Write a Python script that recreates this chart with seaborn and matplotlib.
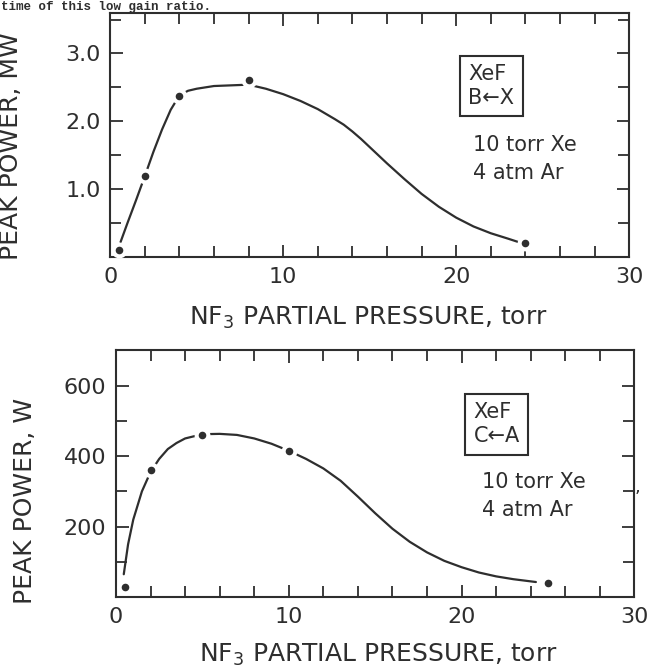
import matplotlib
matplotlib.use("Agg")
import matplotlib.pyplot as plt
import seaborn as sns
import pandas as pd
from matplotlib.ticker import MultipleLocator, FixedLocator

# Ink colour of the scanned figure
INK = "#2e2e2e"

# Upper panel: XeF B-X, peak power in MW
top_pts_x = [0.5, 2, 4, 8, 24]
top_pts_y = [0.11, 1.19, 2.38, 2.61, 0.21]
top_curve_x = [0.6, 1.0, 1.5, 2.0, 2.5, 3.0, 3.5, 4.0, 4.5, 5, 6, 7, 8, 9,
               10, 11, 12, 13, 13.5, 14, 14.5, 15, 15.5, 16, 17, 18, 19, 20,
               21, 22, 23, 23.6]
top_curve_y = [0.22, 0.50, 0.84, 1.19, 1.55, 1.88, 2.17, 2.38, 2.45, 2.48,
               2.52, 2.53, 2.54, 2.48, 2.40, 2.30, 2.18, 2.03, 1.95, 1.85,
               1.74, 1.62, 1.50, 1.38, 1.15, 0.93, 0.74, 0.58, 0.45, 0.35,
               0.27, 0.22]
top_yticks = [1.0, 2.0, 3.0]
top_yticklabels = ["1.0", "2.0", "3.0"]

# Lower panel: XeF C-A, peak power in W
bot_pts_x = [0.5, 2, 5, 10, 25]
bot_pts_y = [30, 360, 460, 415, 40]
bot_curve_x = [0.45, 0.7, 1.0, 1.5, 2.0, 2.5, 3, 3.5, 4, 5, 6, 7, 8, 9, 10,
               11, 12, 13, 14, 15, 16, 17, 18, 19, 20, 21, 22, 23, 24.3]
bot_curve_y = [65, 150, 220, 300, 355, 392, 420, 437, 450, 462, 463, 460,
               450, 435, 415, 392, 365, 330, 285, 238, 194, 157, 127, 103,
               85, 70, 59, 51, 43]
bot_yticks = [200, 400, 600]
bot_yticklabels = ["200", "400", "600"]

xticks = [0, 10, 20, 30]
xticklabels = ["0", "10", "20", "30"]

sns.set_theme(style="ticks")
plt.rcParams["font.family"] = ["DejaVu Sans"]
plt.rcParams["mathtext.fontset"] = "dejavusans"
plt.rcParams["text.color"] = INK
plt.rcParams["axes.labelcolor"] = INK
plt.rcParams["xtick.color"] = INK
plt.rcParams["ytick.color"] = INK
plt.rcParams["axes.edgecolor"] = INK

fig = plt.figure(figsize=(6.48, 6.71), dpi=100)
ax_top = fig.add_axes([0.170, 0.617, 0.801, 0.364])
ax_bot = fig.add_axes([0.179, 0.110, 0.800, 0.368])


def draw_panel(ax, cx, cy, px, py):
    curve = pd.DataFrame({"x": cx, "y": cy})
    pts = pd.DataFrame({"x": px, "y": py})
    sns.lineplot(data=curve, x="x", y="y", ax=ax, color=INK, lw=1.6,
                 sort=False, estimator=None)
    # white halo leaves the small gap between curve and data dot
    sns.scatterplot(data=pts, x="x", y="y", ax=ax, s=130, color="white",
                    linewidth=0, zorder=3)
    sns.scatterplot(data=pts, x="x", y="y", ax=ax, s=30, color=INK,
                    linewidth=0, zorder=4)
    for side in ["top", "right", "left", "bottom"]:
        ax.spines[side].set_visible(True)
        ax.spines[side].set_linewidth(1.5)
    ax.set_xlim(0, 30)
    ax.xaxis.set_major_locator(FixedLocator(xticks))
    ax.set_xticklabels(xticklabels)
    ax.xaxis.set_minor_locator(MultipleLocator(2))
    ax.tick_params(which="both", direction="in", top=True, right=True,
                   width=1.3, labelsize=16, pad=7)
    ax.tick_params(which="major", length=9)
    ax.tick_params(which="minor", length=8)


# upper panel
draw_panel(ax_top, top_curve_x, top_curve_y, top_pts_x, top_pts_y)
ax_top.set_ylim(0, 3.6)
ax_top.yaxis.set_major_locator(FixedLocator(top_yticks))
ax_top.set_yticklabels(top_yticklabels)
ax_top.yaxis.set_minor_locator(MultipleLocator(0.5))
ax_top.set_xlabel("NF$_3$ PARTIAL PRESSURE, torr", fontsize=18)
ax_top.set_ylabel("PEAK POWER, MW", fontsize=18)
ax_top.xaxis.set_label_coords(0.497, -0.197)
ax_top.yaxis.set_label_coords(-0.168, 0.455)
ax_top.text(20.7, 2.52, "XeF\nB\u2190X", fontsize=15, ha="left", va="center",
            linespacing=1.25,
            bbox=dict(boxstyle="square,pad=0.4", fc="white", ec=INK, lw=1.5))
ax_top.text(21.0, 1.65, "10 torr Xe", fontsize=15, ha="left", va="center")
ax_top.text(21.0, 1.24, "4 atm Ar", fontsize=15, ha="left", va="center")

# lower panel
draw_panel(ax_bot, bot_curve_x, bot_curve_y, bot_pts_x, bot_pts_y)
ax_bot.set_ylim(0, 700)
ax_bot.yaxis.set_major_locator(FixedLocator(bot_yticks))
ax_bot.set_yticklabels(bot_yticklabels)
ax_bot.yaxis.set_minor_locator(MultipleLocator(100))
ax_bot.set_xlabel("NF$_3$ PARTIAL PRESSURE, torr", fontsize=18)
ax_bot.set_ylabel("PEAK POWER, W", fontsize=18)
ax_bot.xaxis.set_label_coords(0.506, -0.182)
ax_bot.yaxis.set_label_coords(-0.153, 0.39)
ax_bot.text(20.7, 490, "XeF\nC\u2190A", fontsize=15, ha="left", va="center",
            linespacing=1.25,
            bbox=dict(boxstyle="square,pad=0.4", fc="white", ec=INK, lw=1.5))
ax_bot.text(21.2, 326, "10 torr Xe", fontsize=15, ha="left", va="center")
ax_bot.text(21.2, 246, "4 atm Ar", fontsize=15, ha="left", va="center")

# bits of the scanned page around the figure
fig.text(0.002, 0.999, "time of this low gain ratio.", fontsize=9,
         family="Liberation Mono", weight="bold", ha="left", va="top")
fig.text(0.983, 0.274, ",", fontsize=13, ha="center", va="center")

fig.savefig("out.png", dpi=100)
plt.close(fig)
